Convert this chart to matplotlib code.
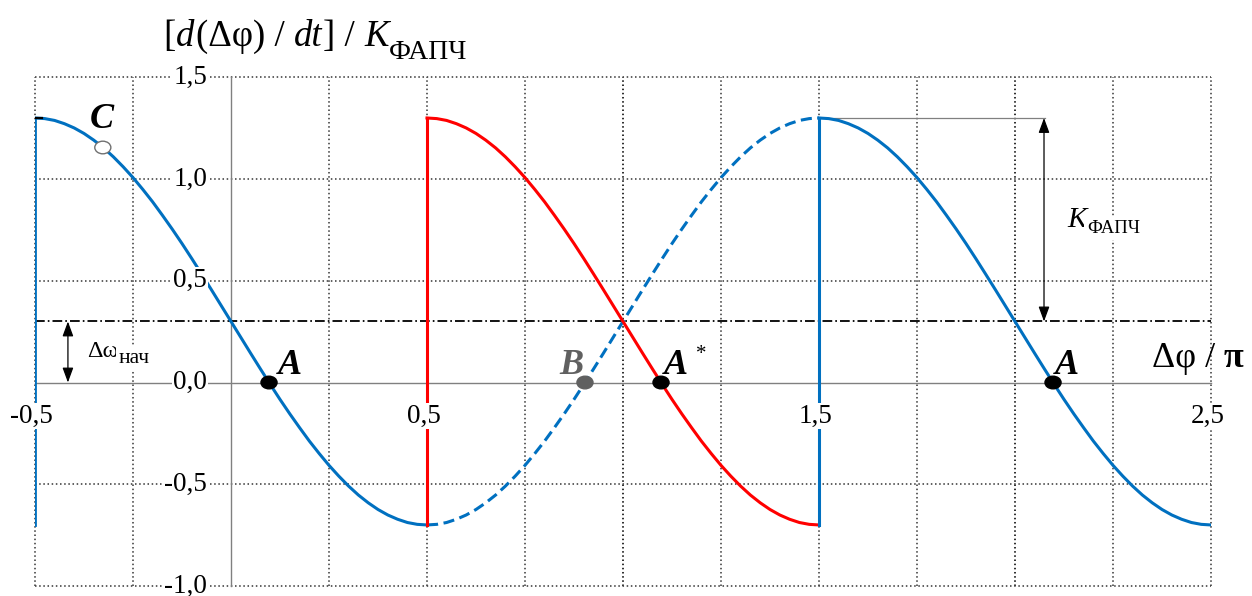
import numpy as np
import matplotlib
matplotlib.use("Agg")
import matplotlib.pyplot as plt
from matplotlib.patches import Ellipse
from matplotlib.transforms import offset_copy

plt.rcParams["font.family"] = ["Liberation Serif", "DejaVu Serif"]
plt.rcParams["lines.scale_dashes"] = False

# ---- data -------------------------------------------------------------
# normalised phase-error rate over one period of the phase detector
branch_y = [1.300, 1.297, 1.288, 1.272, 1.251, 1.224, 1.191, 1.153, 1.109, 1.060,
            1.007, 0.949, 0.888, 0.822, 0.754, 0.683, 0.609, 0.533, 0.456, 0.378,
            0.300, 0.222, 0.144, 0.067, -0.009, -0.083, -0.154, -0.222, -0.288, -0.349,
            -0.407, -0.460, -0.509, -0.553, -0.591, -0.624, -0.651, -0.672, -0.688, -0.697,
            -0.700]
branch_x = np.linspace(-0.5, 0.5, len(branch_y))

delta_omega0 = 0.3          # initial frequency offset (normalised)
k_pll = 1.0                 # loop gain (normalised)
points_A = [0.097, 1.097, 2.097]
point_B = 0.903
point_C = (-0.327, 1.155)

y_ticks = [1.5, 1.0, 0.5, 0.0, -0.5, -1.0]
y_tick_labels = ["1,5", "1,0", "0,5", "0,0", "-0,5", "-1,0"]
x_ticks = [-0.5, 0.5, 1.5, 2.5]
x_tick_labels = ["-0,5", "0,5", "1,5", "2,5"]

# ---- styles -----------------------------------------------------------
BLUE = "#0070C0"
RED = "#FF0000"
AXIS = "#808080"
GRID = "#454545"
SERIF = "Liberation Serif"

fig = plt.figure(figsize=(12.52, 5.96), dpi=100)
ax = fig.add_axes([35 / 1252, 10 / 596, 1176 / 1252, 508.7 / 596])
ax.set_xlim(-0.5, 2.5)
ax.set_ylim(-1.0, 1.5)
ax.axis("off")

# dotted grid
for gx in np.arange(-0.5, 2.51, 0.25):
    if abs(gx) < 1e-9:
        continue
    major = abs(gx - round(gx)) < 1e-9
    ax.plot([gx, gx], [-1.0, 1.5], color="#1e1e1e" if major else GRID,
            lw=1.3 if major else 1.2, dashes=(1.1, 1.9), zorder=1, clip_on=False)
for gy in [1.5, 1.0, 0.5, -0.5, -1.0]:
    ax.plot([-0.5, 2.5], [gy, gy], color=GRID, lw=1.2, dashes=(1.1, 1.9),
            zorder=1, clip_on=False)

# axes
ax.plot([0, 0], [-1.0, 1.5], color=AXIS, lw=1.0, zorder=2, clip_on=False)
ax.plot([-0.5, 2.5], [0, 0], color=AXIS, lw=1.0, zorder=2, clip_on=False)

# initial offset level
ax.plot([-0.5, 2.5], [delta_omega0, delta_omega0], color="black", lw=1.3,
        dashes=(7, 2.2, 1.2, 2.2), zorder=2)

# phase-plane trajectories
by = np.asarray(branch_y)
curve = dict(lw=2.2, solid_joinstyle="round", dash_joinstyle="round")
ax.plot(branch_x, by, color=BLUE, zorder=4, **curve)
ax.plot(branch_x + 1, by, color=RED, zorder=4, **curve)
ax.plot(branch_x + 1, by[::-1], color=BLUE, dashes=(8, 4), zorder=3, **curve)
ax.plot(branch_x + 2, by, color=BLUE, zorder=4, **curve)
ax.plot([-0.5, -0.5], [by.min(), by.max()], color=BLUE, lw=2.0, zorder=4)
ax.plot([0.5, 0.5], [by.min(), by.max()], color=RED, lw=2.2, zorder=5)
ax.plot([1.5, 1.5], [by.min(), by.max()], color=BLUE, lw=2.2, zorder=5)
ax.plot([-0.5, -0.482], [by.max(), by.max()], color="black", lw=1.6, zorder=5)

# K reference line and dimension arrows
ax.plot([1.5, 2.077], [delta_omega0 + k_pll] * 2, color=AXIS, lw=0.9, zorder=2)
arrow = dict(arrowstyle="<|-|>,head_length=0.6,head_width=0.22", color="black",
             lw=0.9, shrinkA=0, shrinkB=0, mutation_scale=15)
ax.annotate("", xy=(-0.416, delta_omega0), xytext=(-0.416, 0), arrowprops=arrow, zorder=6)
ax.annotate("", xy=(2.074, delta_omega0 + k_pll), xytext=(2.074, delta_omega0),
            arrowprops=arrow, zorder=6)

# equilibrium points
ew, eh = 0.041, 0.062
for xa in points_A:
    ax.add_patch(Ellipse((xa, 0), ew, eh, fc="black", ec="black", zorder=7))
ax.add_patch(Ellipse((point_B, 0), ew, eh, fc="#606060", ec="#606060", zorder=7))
ax.add_patch(Ellipse(point_C, ew, eh, fc="white", ec="#707070", lw=1.0, zorder=7))

lab = dict(fontsize=26, fontweight="bold", fontstyle="italic", family=SERIF,
           textcoords="offset points", va="baseline", zorder=8)
ax.annotate("A", xy=(points_A[0], 0), xytext=(6.5, 6), ha="left", **lab)
ax.annotate("A", xy=(points_A[1], 0), xytext=(2.0, 6), ha="left", **lab)
ax.annotate("A", xy=(points_A[2], 0), xytext=(1.5, 6), ha="left", **lab)
ax.annotate("*", xy=(points_A[1], 0), xytext=(29, 20), textcoords="offset points",
            fontsize=15, family=SERIF, ha="center", va="center", zorder=8)
ax.annotate("B", xy=(point_B, 0), xytext=(-1.0, 6), ha="right", color="#606060", **lab)
ax.annotate("C", xy=point_C, xytext=(-9.5, 14), ha="left", color="black", **lab)

# tick labels
bbox = dict(fc="white", ec="none", pad=0.5)
for v, s in zip(y_ticks, y_tick_labels):
    ax.text(-0.061, v, s, ha="right", va="center", fontsize=19.5, family=SERIF,
            bbox=bbox, zorder=6, clip_on=False)
for v, s in zip(x_ticks, x_tick_labels):
    ax.text(v - 0.008, -0.165, s, ha="center", va="center", fontsize=19.5,
            family=SERIF, bbox=bbox, zorder=6, clip_on=False)


def text_runs(x, y, parts, bg=False):
    """Draw a sequence of differently styled text pieces on one baseline."""
    renderer = fig.canvas.get_renderer()
    dx = 0.0
    for p in parts:
        tr = offset_copy(ax.transData, fig=fig, x=dx, y=p.get("dy", 0), units="points")
        t = ax.text(x, y, p["s"], transform=tr, fontsize=p["size"],
                    fontstyle=p.get("style", "normal"), fontweight=p.get("weight", "normal"),
                    family=SERIF, va="baseline", ha="left", zorder=8, clip_on=False,
                    bbox=dict(fc="white", ec="none", pad=2) if bg else None)
        dx += t.get_window_extent(renderer=renderer).width * 72 / fig.dpi + p.get("gap", 0)


# axis titles
text_runs(-0.172, 1.655, [
    dict(s="[", size=26.5, gap=0.3),
    dict(s="d", size=26.5, style="italic", gap=0.8),
    dict(s="(Δφ) /", size=26.5, gap=6.5),
    dict(s="dt", size=26.5, style="italic", gap=0.8),
    dict(s="] /", size=26.5, gap=6.5),
    dict(s="K", size=26.5, style="italic", gap=0.5),
    dict(s="ФАПЧ", size=20, dy=-9.4),
])
text_runs(2.349, 0.076, [
    dict(s="Δφ /", size=26, gap=6.5),
    dict(s="π", size=26, weight="bold"),
])
text_runs(2.133, 0.764, [
    dict(s="K", size=21, style="italic", gap=0.5, ),
    dict(s="ФАПЧ", size=13.5, dy=-4.3),
], bg=True)
text_runs(-0.367, 0.125, [
    dict(s="Δω", size=17.5, gap=0.3),
    dict(s="нач", size=15.5, dy=-4.3),
], bg=True)

fig.savefig("out.png", dpi=100, facecolor="white")
